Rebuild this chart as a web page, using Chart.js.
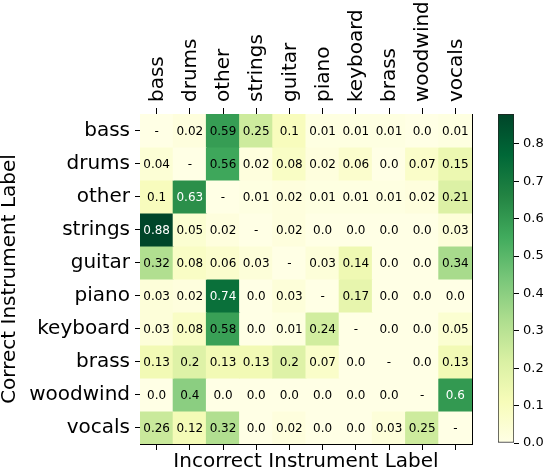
<!DOCTYPE html>
<html>
<head>
<meta charset="utf-8">
<script src="https://cdn.jsdelivr.net/npm/chart.js@4.4.0/dist/chart.umd.min.js"></script>
<style>
  body { margin: 0; background: #fff; }
  #wrap { position: relative; width: 548px; height: 472px; }
  #matrix { position: absolute; left: 0; top: 0; }
  #colorbar { position: absolute; left: 490px; top: 0; }
</style>
</head>
<body>
<div id="wrap">
  <canvas id="matrix" width="548" height="472"></canvas>
  <canvas id="colorbar" width="58" height="472"></canvas>
</div>
<script>
const instruments = ['bass', 'drums', 'other', 'strings', 'guitar', 'piano', 'keyboard', 'brass', 'woodwind', 'vocals'];

// one row per correct label, columns = incorrect label (null = diagonal)
const bass     = [null, 0.02, 0.59, 0.25, 0.1, 0.01, 0.01, 0.01, 0.0, 0.01];
const drums    = [0.04, null, 0.56, 0.02, 0.08, 0.02, 0.06, 0.0, 0.07, 0.15];
const other    = [0.1, 0.63, null, 0.01, 0.02, 0.01, 0.01, 0.01, 0.02, 0.21];
const strings  = [0.88, 0.05, 0.02, null, 0.02, 0.0, 0.0, 0.0, 0.0, 0.03];
const guitar   = [0.32, 0.08, 0.06, 0.03, null, 0.03, 0.14, 0.0, 0.0, 0.34];
const piano    = [0.03, 0.02, 0.74, 0.0, 0.03, null, 0.17, 0.0, 0.0, 0.0];
const keyboard = [0.03, 0.08, 0.58, 0.0, 0.01, 0.24, null, 0.0, 0.0, 0.05];
const brass    = [0.13, 0.2, 0.13, 0.13, 0.2, 0.07, 0.0, null, 0.0, 0.13];
const woodwind = [0.0, 0.4, 0.0, 0.0, 0.0, 0.0, 0.0, 0.0, null, 0.6];
const vocals   = [0.26, 0.12, 0.32, 0.0, 0.02, 0.0, 0.0, 0.03, 0.25, null];

const confusion = [bass, drums, other, strings, guitar, piano, keyboard, brass, woodwind, vocals];

const vmax = 0.88;
const cbTicks = [0, 0.1, 0.2, 0.3, 0.4, 0.5, 0.6, 0.7, 0.8];

// YlGn
const ylgn = ['#ffffe5', '#f7fcb9', '#d9f0a3', '#addd8e', '#78c679', '#41ab5d', '#238443', '#006837', '#004529'];

const FONT = '"DejaVu Sans", "Liberation Sans", sans-serif';

function hexToRgb(h) {
  return [1, 3, 5].map(i => parseInt(h.slice(i, i + 2), 16));
}

function cellColor(v) {
  const t = Math.min(Math.max((v || 0) / vmax, 0), 1) * (ylgn.length - 1);
  const i = Math.min(Math.floor(t), ylgn.length - 2);
  const f = t - i;
  const a = hexToRgb(ylgn[i]);
  const b = hexToRgb(ylgn[i + 1]);
  return `rgb(${a.map((c, k) => Math.round(c + (b[k] - c) * f)).join(',')})`;
}

function fmt(v) {
  const s = String(v);
  return s.includes('.') ? s : s + '.0';
}

const cellLabels = {
  id: 'cellLabels',
  afterDatasetsDraw(chart) {
    const { ctx, scales: { x, y } } = chart;
    ctx.save();
    ctx.font = '12px ' + FONT;
    ctx.textAlign = 'center';
    ctx.textBaseline = 'middle';
    confusion.forEach((row, r) => {
      row.forEach((v, c) => {
        ctx.fillStyle = v !== null && v > 0.595 ? '#fff' : '#000';
        ctx.fillText(v === null ? '-' : fmt(v), x.getPixelForValue(c), y.getPixelForValue(r) + 1);
      });
    });
    ctx.restore();
  },
};

const datasets = confusion.map((row, r) => ({
  data: row.map(() => [r - 0.5, r + 0.5]),
  backgroundColor: row.map(cellColor),
  borderWidth: 0,
  inflateAmount: 0.5,
  grouped: false,
  barPercentage: 1,
  categoryPercentage: 1,
}));

new Chart(document.getElementById('matrix'), {
  type: 'bar',
  data: { labels: instruments, datasets },
  options: {
    responsive: false,
    animation: false,
    layout: { padding: { left: 0, top: 0, right: 76, bottom: 0 } },
    plugins: { legend: { display: false }, tooltip: { enabled: false } },
    scales: {
      x: {
        type: 'category',
        position: 'top',
        offset: true,
        grid: { offset: false, drawOnChartArea: false, tickLength: 6, color: '#000' },
        border: { color: '#000', width: 1 },
        ticks: { minRotation: 90, maxRotation: 90, padding: 6, labelOffset: 25, color: '#000', font: { family: FONT, size: 20 } },
        afterFit(scale) { scale.height = 114; },
      },
      x2: {
        type: 'category',
        position: 'bottom',
        labels: instruments,
        offset: true,
        grid: { offset: false, drawOnChartArea: false, drawTicks: true, tickLength: 6, color: '#000', lineWidth: 1 },
        border: { color: '#000', width: 1 },
        ticks: { display: false },
        title: { display: true, text: 'Incorrect Instrument Label', color: '#000', font: { family: FONT, size: 20, lineHeight: 1 }, padding: 0 },
        afterFit(scale) { scale.height = 28; },
      },
      y: {
        type: 'linear',
        min: -0.5,
        max: 9.5,
        reverse: true,
        grid: { drawOnChartArea: false, tickLength: 5, color: '#000' },
        border: { color: '#000', width: 1 },
        afterBuildTicks(scale) { scale.ticks = instruments.map((_, i) => ({ value: i })); },
        ticks: { padding: 5, color: '#000', font: { family: FONT, size: 20 }, callback: v => instruments[v] },
        title: { display: true, text: 'Correct Instrument Label', color: '#000', font: { family: FONT, size: 20, lineHeight: 1 }, padding: 0 },
        afterFit(scale) { scale.width = 140; },
      },
      y2: {
        type: 'linear',
        position: 'right',
        grid: { drawOnChartArea: false, drawTicks: false },
        border: { color: '#000', width: 1 },
        ticks: { display: false },
        afterFit(scale) { scale.width = 0; },
      },
    },
  },
  plugins: [cellLabels],
});

new Chart(document.getElementById('colorbar'), {
  type: 'bar',
  data: {
    labels: [''],
    datasets: [{
      data: [[0, vmax]],
      backgroundColor(ctx) {
        const { chartArea, ctx: c } = ctx.chart;
        if (!chartArea) return ylgn[0];
        const g = c.createLinearGradient(0, chartArea.bottom, 0, chartArea.top);
        ylgn.forEach((col, i) => g.addColorStop(i / (ylgn.length - 1), col));
        return g;
      },
      borderColor: '#222',
      borderWidth: 1,
      borderSkipped: false,
      barPercentage: 1,
      categoryPercentage: 1,
    }],
  },
  options: {
    responsive: false,
    animation: false,
    layout: { padding: { left: 8, top: 114, right: 0, bottom: 29 } },
    plugins: { legend: { display: false }, tooltip: { enabled: false } },
    scales: {
      x: { display: false },
      y: {
        position: 'right',
        min: 0,
        max: vmax,
        grid: { drawOnChartArea: false, tickLength: 5, color: '#000' },
        border: { display: false },
        afterBuildTicks(scale) { scale.ticks = cbTicks.map(v => ({ value: v })); },
        ticks: { padding: 4, color: '#000', font: { family: FONT, size: 13 }, callback: v => v.toFixed(1) },
        afterFit(scale) { scale.width = 34; },
      },
    },
  },
});
</script>
</body>
</html>
